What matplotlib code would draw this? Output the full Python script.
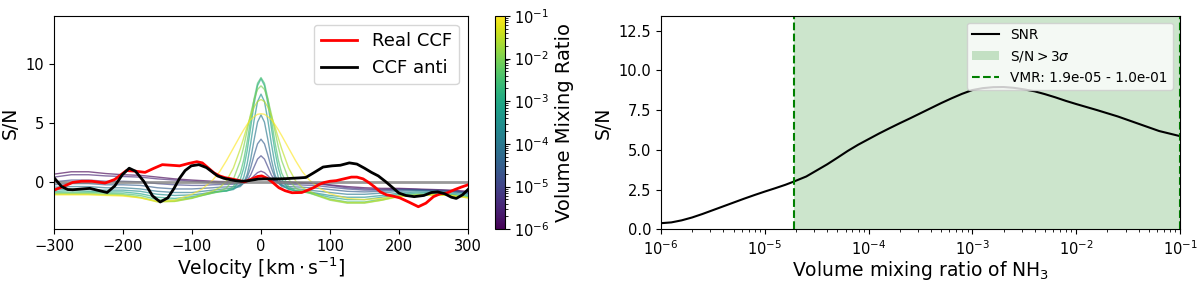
import numpy as np
import matplotlib
matplotlib.use('Agg')
import matplotlib.pyplot as plt
from matplotlib.colors import LogNorm

# model CCFs for each VMR (S/N vs velocity)
vmr_grid = [1e-6, 3.16e-6, 1e-5, 3.16e-5, 1e-4, 3.16e-4, 1e-3, 3.16e-3, 1e-2, 3.16e-2, 1e-1]
model_v = [-300, -275, -250, -225, -200, -175, -150, -125, -100, -85, -70, -60, -50, -40, -30,
           -25, -20, -15, -10, -5, 0, 5, 10, 15, 20, 25, 30, 40, 50, 60, 70, 85, 100, 125,
           150, 175, 200, 225, 250, 275, 300]
ccf_1e6 = [0.7, 0.9, 0.9, 0.75, 0.65, 0.6, 0.45, 0.3, 0.2, 0.15, 0.1, 0.08, 0.07, 0.06, 0.08,
           0.11, 0.16, 0.22, 0.28, 0.33, 0.35, 0.33, 0.28, 0.22, 0.16, 0.11, 0.08, 0.05, 0.0,
           -0.02, -0.05, -0.1, -0.2, -0.35, -0.45, -0.5, -0.5, -0.55, -0.6, -0.65, -0.75]
ccf_3e6 = [0.45, 0.65, 0.65, 0.55, 0.5, 0.45, 0.3, 0.2, 0.1, 0.05, 0.0, -0.03, -0.04, -0.05, -0.04,
           -0.01, 0.09, 0.27, 0.56, 0.83, 0.95, 0.83, 0.56, 0.27, 0.09, -0.01, -0.04, -0.05, -0.07,
           -0.08, -0.1, -0.15, -0.25, -0.45, -0.55, -0.6, -0.55, -0.6, -0.65, -0.7, -0.8]
ccf_1e5 = [0.05, 0.2, 0.2, 0.1, 0.1, 0.05, -0.1, -0.2, -0.25, -0.25, -0.2, -0.18, -0.17, -0.15, -0.12,
           -0.05, 0.18, 0.63, 1.31, 1.97, 2.25, 1.97, 1.31, 0.63, 0.18, -0.05, -0.12, -0.16, -0.19,
           -0.22, -0.25, -0.3, -0.4, -0.55, -0.65, -0.65, -0.6, -0.6, -0.65, -0.7, -0.85]
ccf_3e5 = [-0.2, -0.1, -0.1, -0.2, -0.2, -0.25, -0.45, -0.55, -0.55, -0.5, -0.45, -0.4, -0.38, -0.35, -0.25,
           -0.05, 0.42, 1.23, 2.3, 3.26, 3.65, 3.26, 2.3, 1.23, 0.42, -0.05, -0.25, -0.35, -0.38,
           -0.4, -0.45, -0.5, -0.6, -0.75, -0.8, -0.75, -0.65, -0.65, -0.7, -0.75, -0.9]
ccf_1e4 = [-0.4, -0.35, -0.35, -0.45, -0.45, -0.55, -0.75, -0.85, -0.85, -0.75, -0.65, -0.58, -0.54, -0.49, -0.35,
           -0.03, 0.69, 1.95, 3.6, 5.09, 5.7, 5.09, 3.6, 1.95, 0.69, -0.03, -0.35, -0.49, -0.54,
           -0.58, -0.65, -0.75, -0.85, -1.0, -1.0, -0.9, -0.75, -0.7, -0.75, -0.8, -0.95]
ccf_3e4 = [-0.6, -0.55, -0.6, -0.65, -0.65, -0.75, -1.0, -1.1, -1.05, -0.95, -0.8, -0.73, -0.7, -0.6, -0.2,
           0.45, 1.6, 3.29, 5.23, 6.83, 7.45, 6.83, 5.23, 3.29, 1.6, 0.45, -0.2, -0.6, -0.7,
           -0.73, -0.8, -0.95, -1.1, -1.25, -1.25, -1.1, -0.9, -0.8, -0.85, -0.9, -1.05]
ccf_1e3 = [-0.75, -0.7, -0.75, -0.8, -0.8, -0.95, -1.25, -1.35, -1.2, -1.05, -0.85, -0.78, -0.73, -0.54, 0.25,
           1.22, 2.7, 4.62, 6.62, 8.17, 8.75, 8.17, 6.62, 4.62, 2.7, 1.22, 0.25, -0.54, -0.73,
           -0.78, -0.85, -1.05, -1.25, -1.45, -1.45, -1.25, -1.0, -0.9, -0.9, -1.0, -1.15]
ccf_3e3 = [-0.85, -0.85, -0.85, -0.9, -0.95, -1.1, -1.45, -1.5, -1.3, -1.1, -0.9, -0.79, -0.7, -0.36, 0.77,
           1.91, 3.46, 5.28, 7.06, 8.37, 8.85, 8.37, 7.06, 5.28, 3.46, 1.91, 0.77, -0.36, -0.7,
           -0.79, -0.9, -1.15, -1.4, -1.65, -1.65, -1.4, -1.1, -1.0, -1.0, -1.05, -1.2]
ccf_1e2 = [-0.95, -0.95, -0.95, -1.0, -1.05, -1.25, -1.6, -1.6, -1.35, -1.1, -0.89, -0.74, -0.47, 0.27, 1.84,
           3.03, 4.39, 5.78, 7.0, 7.85, 8.15, 7.85, 7.0, 5.78, 4.39, 3.03, 1.84, 0.27, -0.47,
           -0.74, -0.89, -1.2, -1.5, -1.75, -1.75, -1.5, -1.15, -1.05, -1.05, -1.1, -1.25]
ccf_3e2 = [-1.0, -1.0, -1.0, -1.05, -1.1, -1.3, -1.65, -1.6, -1.3, -1.04, -0.74, -0.44, 0.14, 1.22, 2.83,
           3.77, 4.74, 5.63, 6.36, 6.83, 7.0, 6.83, 6.36, 5.63, 4.74, 3.77, 2.83, 1.22, 0.14,
           -0.44, -0.74, -1.14, -1.45, -1.7, -1.7, -1.5, -1.2, -1.1, -1.05, -1.1, -1.3]
ccf_1e1 = [-1.05, -1.05, -1.05, -1.1, -1.15, -1.3, -1.6, -1.5, -1.0, -0.55, 0.2, 0.9, 1.85, 2.9, 3.95,
           4.45, 4.9, 5.3, 5.55, 5.75, 5.8, 5.75, 5.55, 5.3, 4.9, 4.45, 3.95, 2.9, 1.85,
           0.9, 0.2, -0.5, -0.95, -1.35, -1.45, -1.35, -1.15, -1.1, -1.05, -1.1, -1.3]
model_ccfs = [ccf_1e6, ccf_3e6, ccf_1e5, ccf_3e5, ccf_1e4, ccf_3e4,
              ccf_1e3, ccf_3e3, ccf_1e2, ccf_3e2, ccf_1e1]

# observed CCF and anti-CCF
real_v = [-300, -285, -273, -260, -245, -226, -212, -195, -182, -168, -155, -143, -130, -118, -105,
          -93, -85, -76, -68, -60, -52, -43, -35, -24, -13, -5, 1, 9, 17, 26, 35, 45, 59, 68, 76,
          85, 92, 100, 109, 120, 131, 139, 148, 156, 164, 173, 182, 191, 201, 214, 228, 239, 250,
          260, 269, 281, 290, 300]
real_ccf = [-0.65, -0.3, 0.0, 0.1, 0.1, -0.05, 0.25, 1.0, 0.95, 0.85, 1.2, 1.5, 1.45, 1.4, 1.6,
            1.75, 1.65, 1.2, 0.8, 0.55, 0.4, 0.3, 0.2, 0.05, 0.3, 0.5, 0.55, 0.35, 0.0, -0.45, -0.7,
            -0.87, -0.85, -0.65, -0.45, -0.15, 0.0, 0.1, 0.15, 0.3, 0.45, 0.45, 0.3, 0.0, -0.35, -0.8,
            -1.05, -1.15, -1.3, -1.65, -2.05, -1.75, -1.2, -0.95, -0.9, -0.6, -0.4, -0.2]
anti_v = [-300, -289, -280, -273, -259, -248, -234, -223, -212, -201, -191, -182, -170, -157, -146,
          -135, -126, -118, -110, -101, -90, -79, -71, -63, -54, -46, -37, -29, -21, -13, -4, 4, 15,
          26, 36, 45, 55, 65, 76, 90, 103, 115, 128, 139, 150, 160, 170, 181, 190, 200, 210, 222,
          236, 247, 256, 266, 276, 283, 292, 300]
anti_ccf = [0.4, -0.35, -0.6, -0.62, -0.55, -0.5, -0.7, -0.85, -0.3, 0.65, 1.2, 0.95, 0.1, -1.15, -1.65,
            -1.3, -0.5, 0.35, 1.0, 1.4, 1.5, 1.25, 0.9, 0.55, 0.35, 0.25, 0.15, 0.1, 0.12, 0.2, 0.28,
            0.3, 0.3, 0.3, 0.32, 0.35, 0.38, 0.42, 0.8, 1.3, 1.4, 1.45, 1.65, 1.55, 1.2, 0.85, 0.55,
            0.05, -0.4, -0.9, -1.1, -1.2, -1.1, -0.85, -0.8, -0.95, -1.25, -1.35, -1.05, -0.6]

# peak S/N as a function of VMR (log10 of VMR)
snr_logvmr = [-6.0, -5.9, -5.8, -5.7, -5.6, -5.5, -5.4, -5.3, -5.2, -5.1, -5.0, -4.9, -4.8, -4.72,
              -4.6, -4.5, -4.4, -4.3, -4.2, -4.1, -4.0, -3.9, -3.8, -3.7, -3.6, -3.5, -3.4, -3.3,
              -3.2, -3.1, -3.0, -2.9, -2.8, -2.7, -2.6, -2.5, -2.4, -2.3, -2.2, -2.1, -2.0, -1.9,
              -1.8, -1.7, -1.6, -1.5, -1.4, -1.3, -1.2, -1.1, -1.0]
snr = [0.38, 0.43, 0.56, 0.74, 0.96, 1.2, 1.44, 1.68, 1.92, 2.15, 2.37, 2.58, 2.8, 3.0,
       3.32, 3.7, 4.08, 4.5, 4.93, 5.32, 5.67, 6.02, 6.35, 6.67, 6.98, 7.3, 7.62, 7.94,
       8.24, 8.52, 8.76, 8.88, 8.94, 8.95, 8.9, 8.8, 8.68, 8.5, 8.3, 8.08, 7.88, 7.69,
       7.5, 7.3, 7.1, 6.87, 6.64, 6.41, 6.18, 6.02, 5.86]
vmr_low = 1.9e-5
vmr_high = 1.0e-1

fig = plt.figure(figsize=(12, 2.83), dpi=100)

# Left panel: CCFs
ax1 = fig.add_axes([0.045, 0.19, 0.345, 0.754])
norm = LogNorm(vmin=1e-6, vmax=1e-1)
cmap = plt.get_cmap('viridis')
for vmr, ccf in zip(vmr_grid, model_ccfs):
    ax1.plot(model_v, ccf, color=cmap(norm(vmr)), lw=1, alpha=0.65)
ax1.axhline(0, color='gray', lw=2, alpha=0.8)
ax1.plot(real_v, real_ccf, color='red', lw=2, label='Real CCF')
ax1.plot(anti_v, anti_ccf, color='black', lw=2, label='CCF anti')
ax1.set_xlim(-300, 300)
ax1.set_ylim(-3.95, 14.06)
ax1.set_yticks([0, 5, 10])
ax1.tick_params(labelsize=10.5)
ax1.set_xlabel(r'Velocity [$\mathrm{km\cdot s^{-1}}$]', fontsize=13.5, labelpad=1)
ax1.set_ylabel('S/N', fontsize=13.5)
ax1.legend(loc='upper right', fontsize=13)

cax = fig.add_axes([0.4125, 0.19, 0.008, 0.754])
sm = plt.cm.ScalarMappable(norm=norm, cmap=cmap)
cb = fig.colorbar(sm, cax=cax)
cb.ax.tick_params(labelsize=10.5)
cb.set_label('Volume Mixing Ratio', fontsize=14)

# Right panel: S/N vs VMR
ax2 = fig.add_axes([0.5508, 0.19, 0.4325, 0.754])
ax2.plot(10 ** np.array(snr_logvmr), snr, color='black', lw=1.5, label='SNR')
ax2.axvspan(vmr_low, vmr_high, color='green', alpha=0.2, lw=0, label=r'S/N$>3\sigma$')
ax2.axvline(vmr_low, color='g', ls='--', lw=1.5,
            label='VMR: %.1e - %.1e' % (vmr_low, vmr_high))
ax2.axvline(vmr_high, color='g', ls='--', lw=1.5)
ax2.set_xscale('log')
ax2.set_xlim(1e-6, 1e-1)
ax2.set_ylim(0, 13.43)
ax2.set_yticks([0, 2.5, 5, 7.5, 10, 12.5])
ax2.tick_params(labelsize=10.5)
ax2.set_xlabel(r'Volume mixing ratio of NH$_3$', fontsize=13.5, labelpad=1)
ax2.set_ylabel('S/N', fontsize=13.5)
ax2.legend(loc='upper right', fontsize=9.8)

fig.savefig('out.png', dpi=100)
